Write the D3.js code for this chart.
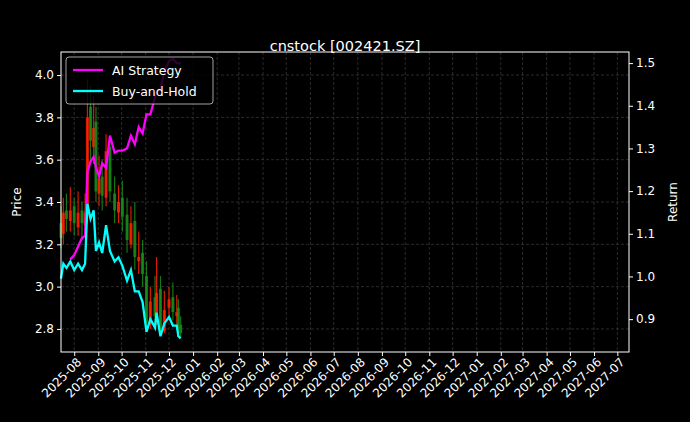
<!DOCTYPE html>
<html><head><meta charset="utf-8">
<script src="https://cdn.jsdelivr.net/npm/d3@7"></script>
<style>body{margin:0;background:#000}svg{display:block}</style>
</head><body>
<script>
const dates=["2025-07-15","2025-07-18","2025-07-22","2025-07-27","2025-08-01","2025-08-06","2025-08-11","2025-08-15","2025-08-18","2025-08-22","2025-08-26","2025-08-29","2025-09-02","2025-09-06","2025-09-11","2025-09-16","2025-09-22","2025-09-27","2025-10-02","2025-10-08","2025-10-13","2025-10-18","2025-10-23","2025-10-28","2025-11-02","2025-11-07","2025-11-13","2025-11-15","2025-11-20","2025-11-25","2025-12-01","2025-12-06","2025-12-11","2025-12-13","2025-12-16"];
const close=[3.23,3.35,3.32,3.36,3.30,3.35,3.30,3.35,3.80,3.69,3.75,3.45,3.51,3.43,3.64,3.45,3.36,3.40,3.33,3.22,3.30,3.14,3.14,3.06,2.83,2.93,2.86,2.97,2.80,2.89,2.94,2.88,2.88,2.80,2.78];
const open=[3.30,3.25,3.36,3.31,3.38,3.28,3.36,3.29,3.36,3.85,3.66,3.78,3.44,3.52,3.42,3.66,3.44,3.35,3.42,3.34,3.20,3.31,3.12,3.16,3.05,2.82,2.95,2.84,2.99,2.79,2.90,2.95,2.86,2.90,2.82];
const high=[3.38,3.42,3.44,3.47,3.42,3.45,3.40,3.44,3.98,3.95,3.90,3.85,3.62,3.60,3.72,3.70,3.52,3.48,3.50,3.42,3.38,3.40,3.26,3.22,3.12,3.00,3.05,3.14,3.05,2.98,3.00,3.02,2.96,2.94,2.86];
const low=[3.18,3.20,3.26,3.26,3.24,3.24,3.22,3.24,3.30,3.60,3.58,3.40,3.38,3.36,3.38,3.40,3.30,3.30,3.26,3.16,3.18,3.08,3.06,3.00,2.80,2.80,2.82,2.82,2.78,2.78,2.84,2.84,2.82,2.78,2.76];
const bhReturn=[0.995,1.03,1.02,1.035,1.015,1.03,1.015,1.03,1.17,1.135,1.155,1.06,1.08,1.055,1.12,1.06,1.035,1.045,1.025,0.99,1.015,0.965,0.965,0.94,0.87,0.90,0.88,0.915,0.86,0.89,0.905,0.885,0.885,0.86,0.855];
const aiReturn=[null,null,null,1.04,1.05,1.07,1.09,1.095,1.245,1.27,1.28,1.255,1.235,1.265,1.255,1.33,1.29,1.295,1.295,1.30,1.33,1.31,1.35,1.335,1.38,1.38,1.42,1.43,1.44,1.48,1.505,1.51,1.50,1.50,1.50];
const priceTicks=[2.8,3.0,3.2,3.4,3.6,3.8,4.0];
const returnTicks=[0.9,1.0,1.1,1.2,1.3,1.4,1.5];

const W=690,H=422,L=61,R=629,T=52,B=352;
const parse=d3.timeParse("%Y-%m-%d");
const svg=d3.select("body").append("svg").attr("width",W).attr("height",H).style("font-family","DejaVu Sans");
svg.append("rect").attr("width",W).attr("height",H).attr("fill","#000");
const x=d3.scaleTime().domain([parse("2025-07-15"),parse("2027-07-16")]).range([L,R]);
const y=d3.scaleLinear().domain([2.691,4.109]).range([B,T]);
const y2=d3.scaleLinear().domain([0.823,1.526]).range([B,T]);
const months=d3.timeMonth.range(parse("2025-08-01"),parse("2027-07-02"));
const g=svg.append("g");
months.forEach(m=>g.append("line").attr("x1",x(m)).attr("x2",x(m)).attr("y1",T).attr("y2",B).attr("stroke","#555").attr("stroke-width",0.5).attr("stroke-dasharray","3,2"));
priceTicks.forEach(t=>g.append("line").attr("x1",L).attr("x2",R).attr("y1",y(t)).attr("y2",y(t)).attr("stroke","#555").attr("stroke-width",0.5).attr("stroke-dasharray","3,2"));
dates.forEach((d,i)=>{
  const cx=x(parse(d)), up=close[i]>=open[i], col=up?"#ff2000":"#1a8a1a";
  svg.append("line").attr("x1",cx).attr("x2",cx).attr("y1",y(high[i])).attr("y2",y(low[i])).attr("stroke",col).attr("stroke-width",1.2).attr("opacity",0.85);
  svg.append("rect").attr("x",cx-1.5).attr("width",3).attr("y",y(Math.max(open[i],close[i]))).attr("height",Math.max(1,Math.abs(y(open[i])-y(close[i])))).attr("fill",col).attr("opacity",0.85);
});
const ln=d3.line().defined(d=>d[1]!=null).x(d=>x(parse(d[0]))).y(d=>y2(d[1]));
svg.append("path").attr("d",ln(dates.map((d,i)=>[d,aiReturn[i]]))).attr("fill","none").attr("stroke","#ff00ff").attr("stroke-width",2.3);
svg.append("path").attr("d",ln(dates.map((d,i)=>[d,bhReturn[i]]))).attr("fill","none").attr("stroke","#00ffff").attr("stroke-width",2.3);
svg.append("rect").attr("x",L).attr("y",T).attr("width",R-L).attr("height",B-T).attr("fill","none").attr("stroke","#fff").attr("stroke-width",1);
const ax=svg.append("g").attr("transform",`translate(0,${B})`).call(d3.axisBottom(x).tickValues(months).tickFormat(d3.timeFormat("%Y-%m")).tickSize(4));
const ay=svg.append("g").attr("transform",`translate(${L},0)`).call(d3.axisLeft(y).tickValues(priceTicks).tickFormat(d3.format(".1f")).tickSize(4));
const ay2=svg.append("g").attr("transform",`translate(${R},0)`).call(d3.axisRight(y2).tickValues(returnTicks).tickFormat(d3.format(".1f")).tickSize(4));
[ax,ay,ay2].forEach(a=>{a.select(".domain").remove();a.selectAll("line").attr("stroke","#fff");a.selectAll("text").attr("fill","#fff").style("font-size","12px").style("font-family","DejaVu Sans");});
ax.selectAll("text").attr("transform","rotate(-45)").attr("text-anchor","end").attr("dx","-0.2em").attr("dy","0.5em");
svg.append("text").attr("x",345).attr("y",51).attr("text-anchor","middle").attr("fill","#fff").style("font-size","14.5px").text("cnstock [002421.SZ]");
svg.append("text").attr("transform",`translate(21,${(T+B)/2}) rotate(-90)`).attr("text-anchor","middle").attr("fill","#fff").style("font-size","12px").text("Price");
svg.append("text").attr("transform",`translate(677,${(T+B)/2}) rotate(-90)`).attr("text-anchor","middle").attr("fill","#fff").style("font-size","12px").text("Return");
const lg=svg.append("g");
lg.append("rect").attr("x",66).attr("y",57).attr("width",147).attr("height",47).attr("rx",3).attr("fill","#000").attr("fill-opacity",0.8).attr("stroke","#ccc").attr("stroke-width",0.8);
[["AI Strategy","#ff00ff",70],["Buy-and-Hold","#00ffff",91]].forEach(([t,c,yy])=>{
  lg.append("line").attr("x1",73).attr("x2",103).attr("y1",yy).attr("y2",yy).attr("stroke",c).attr("stroke-width",2.3);
  lg.append("text").attr("x",112).attr("y",yy+4.5).attr("fill","#fff").style("font-size","12.5px").text(t);
});
</script>
</body></html>
